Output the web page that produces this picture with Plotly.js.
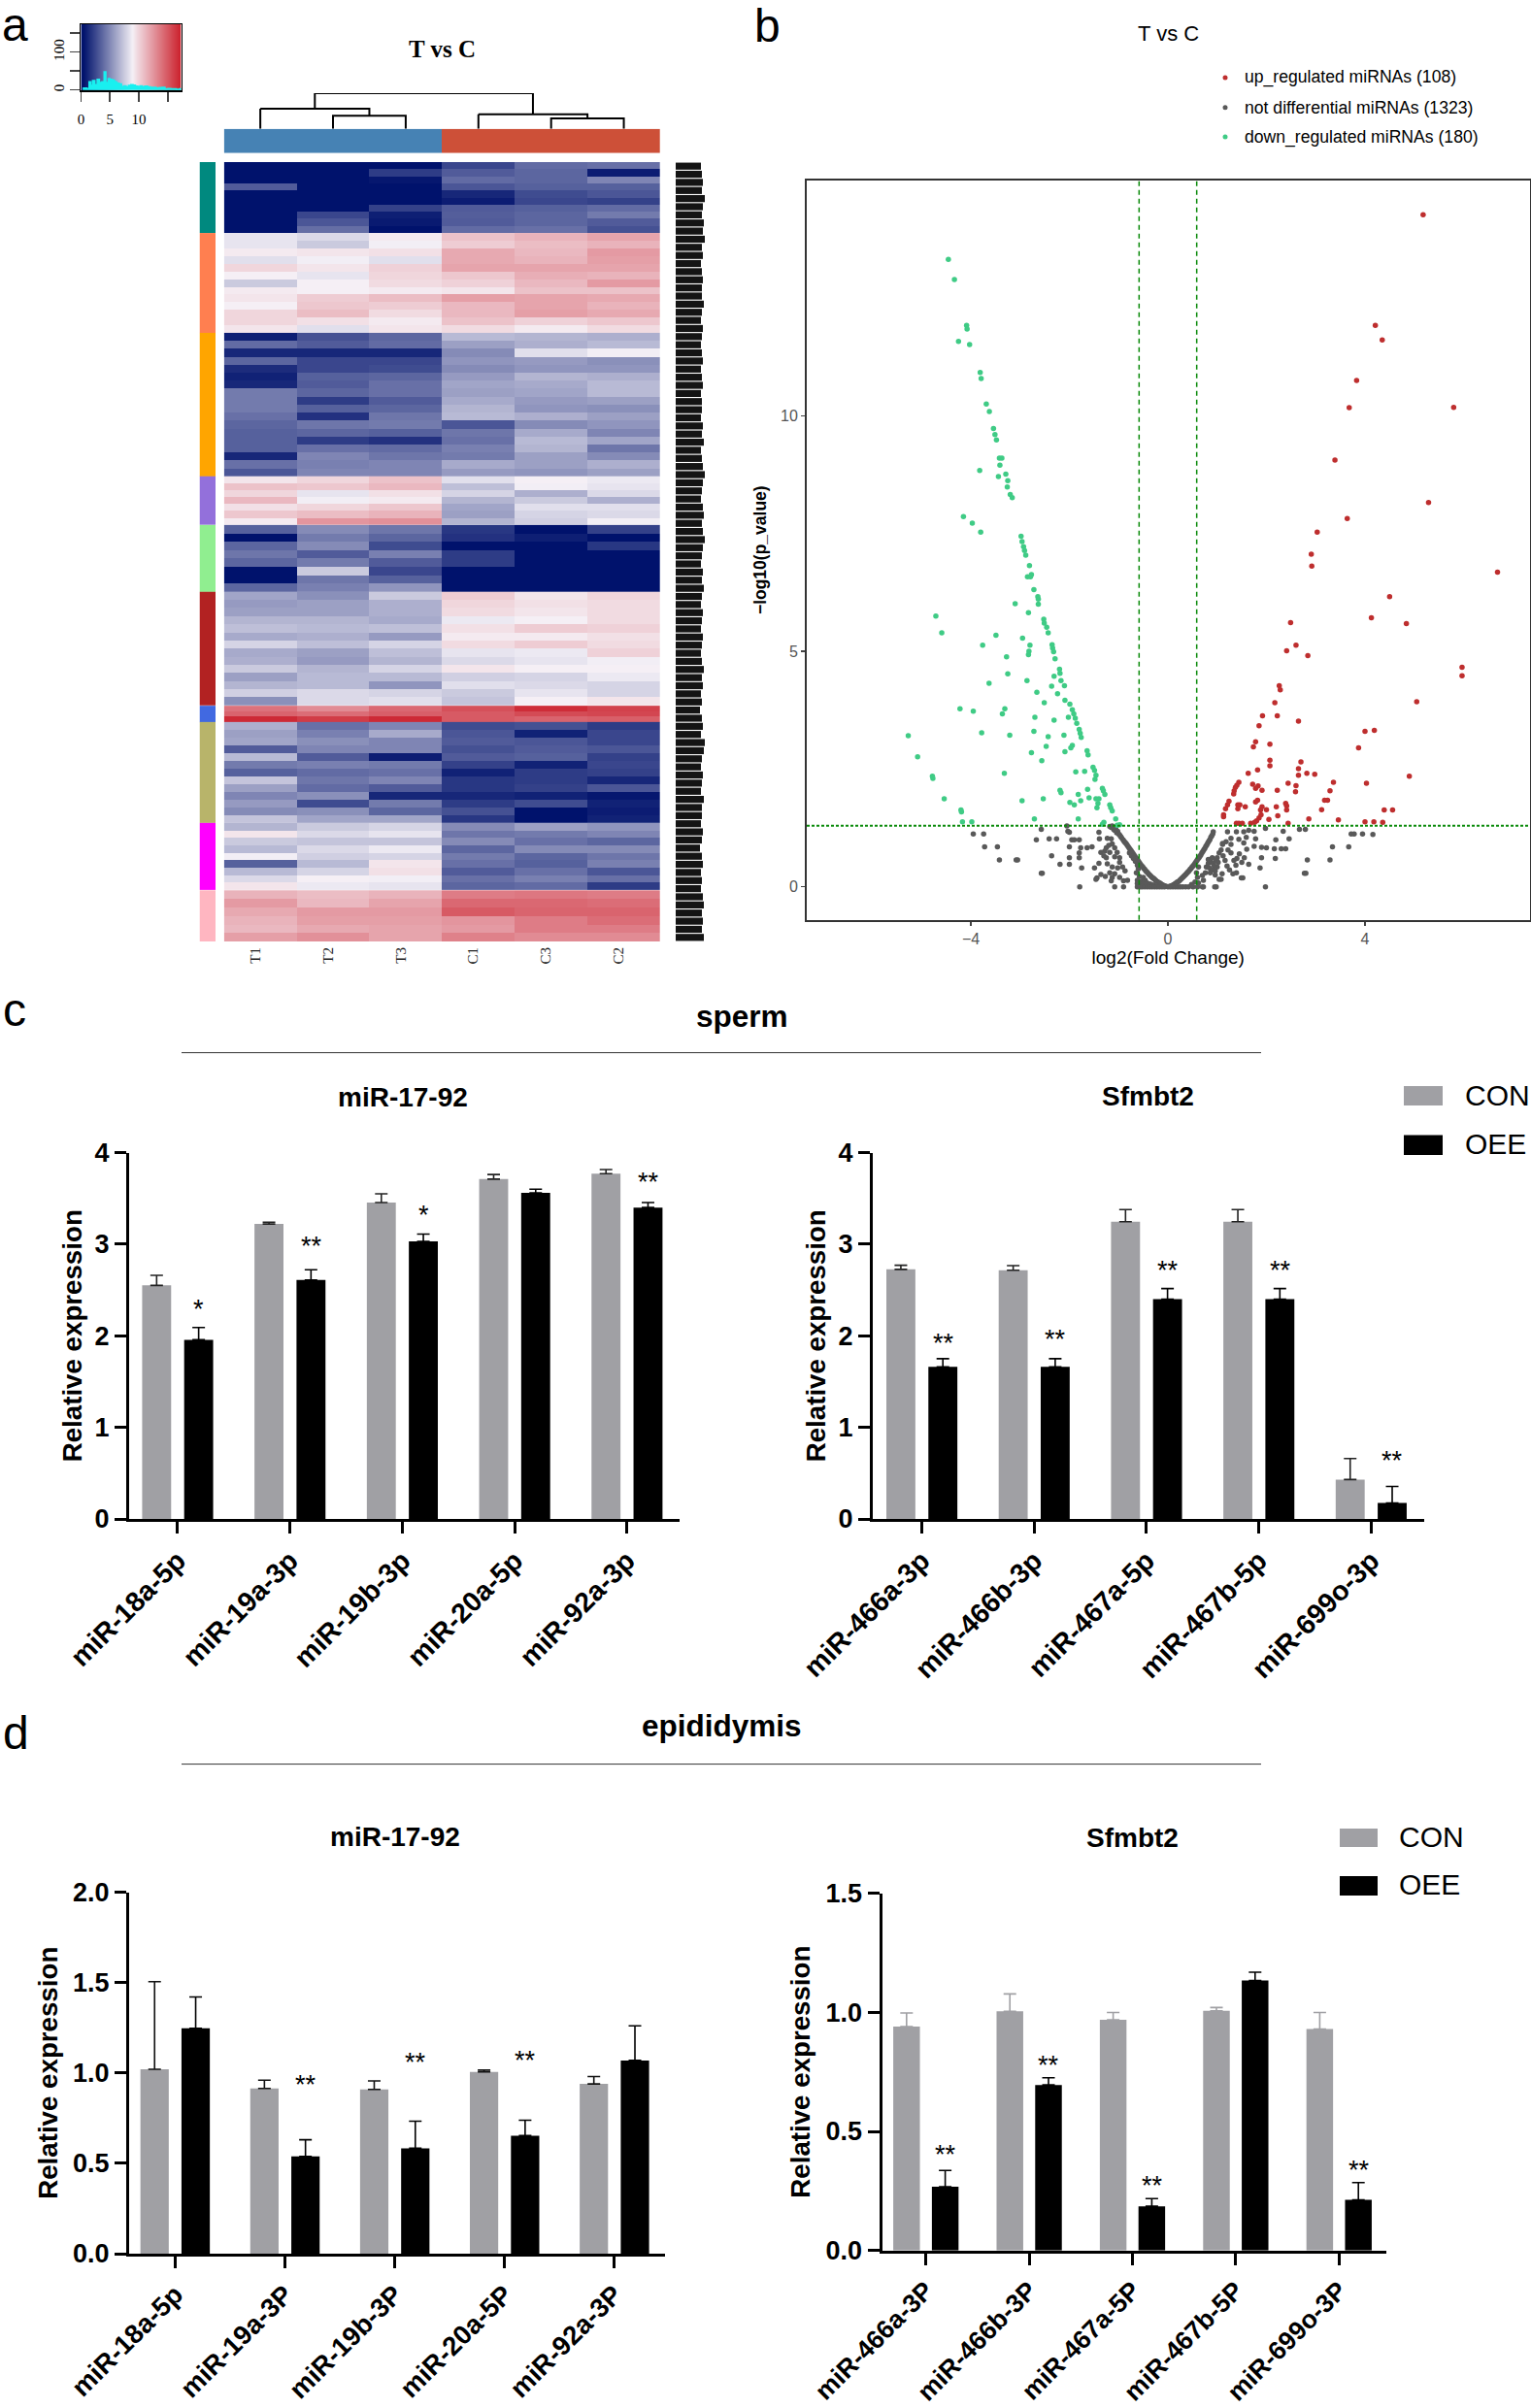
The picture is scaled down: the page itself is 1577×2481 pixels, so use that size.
<!DOCTYPE html>
<html><head><meta charset="utf-8">
<script src="https://cdn.plot.ly/plotly-3.0.1.min.js"></script>
<style>html,body{margin:0;padding:0;background:#fff;overflow:hidden}#chart{width:1577px;height:2481px}</style>
</head><body><div id="chart"></div>
<script>
const W=1577,H=2481;
// ---------- panel a: heatmap rows (T1,T2,T3,C1,C3,C2) ----------
const sampleNames=['T1','T2','T3','C1','C3','C2'];
const clusterColors=['#00897F','#FF7F50','#FFA500','#9370DB','#90EE90','#B22222','#4169E1','#B8B46A','#FF00FF','#FFB6C1'];
const clusterSizes=[26.2,36.9,53,18,24.7,42.1,6,37.3,24.9,18.9];
const cluster1=[[0,0,0,2,3.4,3.6],[0,0,1.6,2.8,3.2,.4],[0,0,.2,3.4,3.2,4.4],[2.8,0,0,2.6,3,3],[0,0,0,.8,2.2,2.6],[0,0,0,.4,2,1.8],[0,0,1.8,2.8,3,3.4],[0,2,.5,2.9,3.2,4],[0,2.6,.3,2.8,3.2,2.8],[0,3.5,0,3.4,3.6,2.4]];
const cluster2=[[8,7.6,8.8,10.4,11,11.6],[8,7,8.4,10,10.6,11],[8.8,9,9.2,11.4,10.8,12],[7.8,8.4,7.8,11.4,11,11.8],[9.6,9,9.8,11.6,11.6,11.6],[8.6,8,9.6,10.2,11.2,11],[7,8.6,9.4,9.8,10.8,12],[8.8,8.6,8.8,9,10.4,10.4],[9,10,10.6,11.8,11.6,11.4],[8.6,10.2,10,10.8,11.6,11],[9.6,10.6,9.4,10.8,11.8,11.4],[9.6,9.2,8.8,10.4,9.8,10.2],[9,7.8,9,9.4,8.8,9.4]];
const cluster3=[[.5,2.4,3.2,6.4,6.2,6],[3.4,2.8,3.4,5.4,6,6.4],[.8,.8,.8,4.6,7.8,8.4],[3.2,2,2,5,5.2,4.8],[1,2,2.2,4.6,5,5],[.6,3,3.2,5.2,6.2,6],[.8,2.8,3.6,5.6,5.8,6.4],[4,3.2,3.6,5.4,5.6,6.4],[4,1.6,2.8,5.8,5.2,5.4],[4,3,3.2,6.2,5,4.8],[3.6,1.2,3.8,6.4,6,5.4],[3.2,3.8,4,2.6,4.6,5],[3,3.2,3,3.8,5.8,4.4],[3,1.6,1.2,3.6,6.4,5.6],[3,3.6,3.4,4.2,6.2,3.8],[.8,4.4,3.8,4,5.4,4.6],[3.6,4.2,4.4,5.8,5.4,6],[2.6,4.4,4.4,5.2,5,5.4]];
const cluster4=[[9,9.6,10.4,7.8,8.6,8.2],[10.4,10.2,10.8,6.6,8.4,8],[9.6,8,9.2,7.4,6,7.6],[10.8,8.4,8.8,6.2,7,6],[9.2,9.6,10.2,5.6,7.8,7.8],[10.2,10.6,11,5.4,7.4,7.6],[8.8,12.2,12.4,6.2,7.2,8.4]];
const cluster5=[[3,4.6,3.8,1.4,0,1.8],[0,4,3.2,1.2,.5,0],[3.2,4.6,2.2,0,0,1.4],[3.8,2.8,4.2,1.6,0,0],[3.2,4,2.8,1.6,0,0],[0,7,2,0,0,0],[0,3.8,3,0,0,0],[3.2,4.2,5,0,0,0]];
const cluster6=[[5.6,4.8,7,10,9,9.6],[5.2,5.4,6,9.6,9.2,9.4],[5.4,5.4,6,9.4,9,9.4],[6.2,6.2,5.8,8.2,8.6,9.4],[6.6,6.4,6.6,9.2,10,9.8],[5.8,6,5.2,8.8,8.8,9.2],[7.4,6.6,7.4,9.4,10,9.4],[5.8,5.4,6.6,8,8.2,9.8],[6,5.2,6.2,7.6,8,8.4],[7,6.2,7.4,9,8.6,8.6],[5.4,6.4,6.4,7.2,7.4,8.2],[6.2,6.4,5,7.8,7.6,7.4],[7.2,7.6,7.4,7,8,7.4],[4.8,7.6,7.8,6.8,8.6,9]];
const cluster7=[[13.6,12.6,14,15,16.4,15.6],[14.2,13.8,14.4,14.6,15.2,15.4],[16.5,15.8,16.5,14.6,14.2,14.4]];
const cluster8=[[6,3.6,4.4,2.2,2.4,1.6],[5.4,4.2,5.8,2.6,.6,2],[5.6,4.8,4.4,2.8,2.6,2],[2.8,4.4,4.4,2.4,2.8,2.6],[6.4,2.8,.4,2.8,3,1.8],[4,4.2,4,1.8,.6,2],[3,3.4,3.6,.6,1.6,1.8],[6.8,3.8,4.4,1.4,1.6,.8],[5.4,3.4,2.8,1.4,1.8,2.6],[4.4,4.8,.8,.8,.6,.2],[5.2,2.2,4,1.6,2.2,.6],[4.6,4.8,3.2,2.4,0,.4],[6.8,5.6,5.6,1.4,0,.6]];
const cluster9=[[6.2,7,7.4,4.6,5.4,5],[9,7.6,8,3.8,4,4.4],[7,6.8,6.8,4.6,3.6,3.2],[6.4,7.6,8.2,3.2,4.6,4.6],[8.4,7.2,7.4,4,3.2,3.8],[3,6.4,9,3.6,3,4.2],[6.4,7.4,9.2,2.8,3.6,2.6],[7.6,8.6,8.4,3.6,4.2,3.6],[9,8.2,8,3.2,3.4,1.6]];
const cluster10=[[11,10.6,11,13.2,13.4,13.2],[12,10.8,11.6,14,14,13.8],[11.4,12,12,14.6,14.2,14.2],[11,11.8,11.8,12.2,13.2,13.8],[10.8,11.4,11.6,12,13.2,13.2],[11.8,12.4,11.6,13,12.6,12.6]];
const clusters=[cluster1,cluster2,cluster3,cluster4,cluster5,cluster6,cluster7,cluster8,cluster9,cluster10];
const rowLabelWidths=[26,27,28,27,30,28,27,29,28,30,27,28,26,27,28,27,27,29,27,26,28,27,26,27,28,26,27,28,26,27,27,26,28,27,29,26,27,28,30,28,27,26,28,29,27,28,30,28,27,26,28,27,29,27,26,28,27,26,28,27,26,27,29,27,28,26,27,25,27,28,26,30,29,27,26,28,27,26,29,27,27,26,28,27,25,27,28,26,27,26,28,29,27,28,27,29];
const keyHistX=[.3,1,1.4,1.7,2,2.4,2.8,3.2,3.6,4,4.3,4.7,5,5.4,5.8,6.2,6.6,7,7.4,7.8,8.2,8.6,9,9.4,9.8,10.2,10.6,11,11.5,12,12.5,13,13.5,14,14.5,15,15.5,16,16.5,17,17.3];
const keyHistY=[5,4,22,12,25,14,28,20,22,48,20,30,28,26,22,18,16,9,11,8,12,14,13,10,9,11,8,10,8,7,7,5,6,7,3,4,3,3,2,3,4];
// dendrogram: leaf positions are column indices, heights as drawn
const dendroX=[0,0,null,1,1,2,2,null,1.5,1.5,0,0,null,3,3,null,4,4,5,5,null,4.5,4.5,3,3,null,.75,.75,null,3.75,3.75,null,.75,3.75];
const dendroY=[0,20.7,null,0,13.4,13.4,0,null,13.4,20.7,20.7,20.7,null,0,15,null,0,10.7,10.7,0,null,10.7,15,15,15,null,20.7,36.7,null,15,36.7,null,36.7,36.7];

// ---------- panel b: volcano ----------
const upPts=[[5.18,14.27],[4.21,11.92],[4.35,11.61],[3.83,10.75],[3.68,10.17],[5.8,10.18],[3.39,9.06],[5.29,8.16],[3.64,7.82],[3.03,7.53],[2.91,7.06],[2.92,6.81],[6.69,6.68],[4.5,6.16],[4.13,5.71],[2.49,5.61],[4.84,5.59],[2.6,5.13],[2.41,5.01],[2.84,4.91],[5.97,4.66],[5.97,4.48],[2.26,4.27],[2.28,4.18],[2.17,3.91],[5.05,3.93],[1.92,3.63],[2.22,3.63],[2.65,3.52],[1.85,3.42],[4,3.3],[4.19,3.32],[1.78,3.08],[2.07,3.03],[1.735,2.97],[3.87,2.95],[2.07,2.69],[2.07,2.57],[2.7,2.65],[2.65,2.51],[1.82,2.48],[1.63,2.41],[2.82,2.41],[2.98,2.39],[2.65,2.37],[4.9,2.35],[4.03,2.2],[3.36,2.22],[2.44,2.2],[1.44,2.22],[1.4,2.16],[1.72,2.18],[1.83,2.14],[1.78,2.09],[2.6,2.15],[1.37,2.11],[1.345,2.04],[1.335,1.97],[1.91,2.05],[2.22,2.05],[2.59,2.02],[3.29,2.04],[3.18,1.84],[3.24,1.84],[1.24,1.82],[1.21,1.74],[1.82,1.84],[1.78,1.8],[1.42,1.74],[1.46,1.74],[1.42,1.66],[1.57,1.7],[1.17,1.66],[1.91,1.7],[1.88,1.63],[2.39,1.77],[2.41,1.72],[2.2,1.7],[2,1.64],[2.41,1.63],[3.12,1.64],[4.39,1.63],[4.56,1.63],[1.13,1.53],[1.13,1.49],[2.23,1.51],[1.89,1.53],[1.85,1.46],[1.8,1.4],[2.05,1.43],[2.86,1.44],[3.46,1.42],[4,1.38],[4.18,1.38],[4.36,1.37],[2.44,1.35],[1.39,1.35],[1.44,1.35],[1.51,1.35],[1.68,1.35],[1.76,1.37]];
const downPts=[[-4.456,13.32],[-4.333,12.89],[-4.086,11.92],[-4.076,11.84],[-4.25,11.58],[-4.025,11.51],[-3.81,10.92],[-3.79,10.79],[-3.686,10.25],[-3.624,10.09],[-3.54,9.73],[-3.51,9.6],[-3.48,9.49],[-3.42,9.1],[-3.37,9.1],[-3.41,8.95],[-3.82,8.84],[-3.44,8.71],[-3.29,8.76],[-3.25,8.62],[-3.26,8.49],[-3.2,8.33],[-3.16,8.26],[-4.15,7.86],[-3.97,7.72],[-3.8,7.53],[-2.98,7.44],[-2.96,7.33],[-2.93,7.22],[-2.91,7.14],[-2.885,7.04],[-2.81,6.82],[-2.85,6.58],[-2.79,6.58],[-2.77,6.63],[-2.72,6.31],[-2.64,6.16],[-2.63,6.11],[-2.63,6],[-3.1,6.01],[-2.83,5.82],[-4.71,5.75],[-4.59,5.39],[-2.52,5.68],[-2.51,5.6],[-2.46,5.51],[-2.43,5.39],[-3.49,5.34],[-2.95,5.28],[-3.76,5.13],[-2.8,5.13],[-2.35,5.14],[-2.34,5.07],[-2.32,4.99],[-2.29,4.84],[-2.82,5],[-2.83,4.93],[-3.275,4.88],[-2.2,4.62],[-2.19,4.53],[-3.25,4.52],[-2.31,4.47],[-2.17,4.38],[-2.86,4.38],[-3.63,4.32],[-2.1,4.27],[-2.36,4.26],[-2.66,4.13],[-2.24,4.1],[-2.09,3.96],[-2.51,3.91],[-1.99,3.88],[-4.22,3.78],[-3.31,3.78],[-3.95,3.73],[-3.36,3.67],[-1.94,3.76],[-1.91,3.67],[-1.88,3.58],[-1.85,3.47],[-2.7,3.6],[-2.02,3.6],[-2.31,3.54],[-1.8,3.34],[-2.72,3.3],[-1.78,3.26],[-1.76,3.17],[-3.78,3.27],[-3.21,3.22],[-2.43,3.19],[-2.11,3.22],[-5.27,3.21],[-1.94,3],[-1.97,2.95],[-2.47,2.98],[-2.09,2.87],[-1.64,2.89],[-1.62,2.8],[-2.77,2.85],[-5.08,2.76],[-2.56,2.68],[-1.52,2.54],[-1.49,2.47],[-1.46,2.37],[-1.48,2.28],[-1.87,2.44],[-1.69,2.45],[-3.32,2.41],[-4.78,2.35],[-4.77,2.3],[-2.19,2.05],[-2.17,2],[-1.63,2.07],[-1.33,2.09],[-1.31,2.04],[-1.28,1.96],[-1.82,1.96],[-1.6,1.89],[-1.46,1.87],[-1.4,1.87],[-4.54,1.87],[-2.53,1.87],[-2.96,1.83],[-1.77,1.83],[-1.99,1.79],[-1.9,1.74],[-1.42,1.77],[-1.18,1.74],[-1.16,1.68],[-1.44,1.68],[-4.2,1.63],[-4.19,1.59],[-1.13,1.61],[-2.71,1.44],[-1.82,1.44],[-1.06,1.44],[-4.17,1.38],[-3.98,1.38],[-1.3,1.37],[-1.33,1.33],[-1.03,1.31],[-.98,1.32]];
const flatPts=[[-3.95,1.12],[-3.74,1.12],[-3.72,.85],[-3.46,.85],[-3.42,.57],[-3.08,.57],[-3.05,.57],[-2.57,.29],[-2.55,.29],[-2.67,1],[-2.41,1.02],[-2.26,1.02],[-2.57,1.22],[-2.05,1.29],[-2.03,1.18],[-2,1.16],[-1.95,1],[-1.9,1],[-1.8,1],[-2,.85],[-1.77,.83],[-1.64,.83],[-1.54,.85],[-1.8,.72],[-2.36,.66],[-2,.62],[-1.8,.62],[-2.19,.48],[-2,.48],[-1.75,.4],[-1.49,.4],[-1.79,0],[-1.36,.26],[-1.44,.19],[-1.46,.16],[-1.08,0],[-.9,0],[-.62,0],[-.56,0],[-1.4,1.16],[-1.39,1.02],[-1.23,1.03],[-1.15,1.02],[-1.25,.83],[-1.2,.88],[-1.13,.91],[-1.08,.83],[-1.28,.76],[-1.36,.73],[-1.18,.73],[-1.03,.73],[-1.25,.62],[-1.08,.64],[-.98,.62],[-1.23,.49],[-.98,.52],[-1.13,.42],[-.92,.42],[-1.18,.3],[-1.08,.28],[-.87,.34],[-1.13,.2],[-.98,.2],[-.82,.14],[-.9,.13],[-1.15,.13],[-1.3,.66],[-1.4,.5],[-1.02,.4],[-1.27,.22],
[-1.18,1.28],[-1.15,1.26],[-1.13,1.29],[-1.1,1.22],[-1.08,1.2],[-1.06,1.24],[-1.04,1.15],[-1.02,1.18],[-1,1.12],[-.98,1.1],[-.96,1.07],[-.94,1.04],[-.91,1],[-.89,.97],[-.87,.94],[-.85,.92],[-.83,.89],[-.81,.86],[-.79,.83],[-.77,.8],[-.75,.77],[-.73,.74],[-.71,.71],[-.69,.68],[-.67,.65],[-.65,.62],[-.63,.59],[-.61,.56],[-.59,.53],[-.57,.5],[-.55,.47],[-.53,.44],[-.51,.42],[-.49,.39],[-.47,.37],[-.45,.34],[-.43,.32],[-.41,.3],[-.39,.27],[-.37,.25],[-.35,.23],[-.33,.21],[-.31,.19],[-.29,.18],[-.27,.16],[-.25,.14],[-.23,.12],[-.21,.11],[-.19,.09],[-.17,.08],[-.15,.07],[-.13,.05],[-.11,.04],[-.09,.03],[-.07,.02],[-.05,.01],[-.03,.01],
[-.78,.72],[-.74,.66],[-.7,.6],[-.66,.54],[-.62,.46],[-.6,.38],[-.64,.3],[-.58,.22],[-.62,.14],[-.55,.12],[-.5,.2],[-.46,.14],[-.42,.08],[-.36,.06],[-.3,.04],[-.22,.02],[-.5,.06],[-.62,.07],[-.58,.03],[-.52,0],[-.47,0],[-.42,0],[-.37,0],[-.32,0],[-.27,0],[-.22,0],[-.17,0],[-.12,0],[-.07,0],[0,0],[.05,0],[.1,0],[.15,0],[.2,0],[.25,0],[.3,0],[.36,0],[.42,0],[.51,0],[.6,0],[.72,0],[.98,0],[.95,0],[.7,0],
[.92,1.17],[.91,1.12],[.89,1.08],[.87,1.05],[.85,1],[.83,.97],[.81,.93],[.79,.89],[.77,.86],[.75,.82],[.73,.79],[.71,.75],[.69,.72],[.67,.68],[.65,.65],[.63,.62],[.61,.59],[.59,.56],[.57,.53],[.55,.5],[.53,.47],[.51,.44],[.49,.42],[.47,.39],[.45,.37],[.43,.34],[.41,.32],[.39,.3],[.37,.27],[.35,.25],[.33,.23],[.31,.21],[.29,.19],[.27,.17],[.25,.15],[.23,.13],[.21,.11],[.19,.1],[.17,.08],[.15,.07],[.13,.05],[.11,.04],[.09,.03],[.07,.02],[.05,.01],[.03,.01],
[.62,.42],[.58,.3],[.6,.2],[.55,.1],[.48,.05],[.62,.08],[.72,.14],[.7,.24],[.76,.3],[.78,.42],[.84,.4],[.82,.5],[.88,.52],[.92,.5],[.94,.44],[.9,.36],[.86,.3],[.96,.34],[1,.42],[1.02,.52],[.98,.56],[.82,.58],[.9,.62],[.96,.25],[1.04,.16],[1.08,.16],[1.1,.28],[1,.62],[1.04,.72],[1.08,.78],[1.11,.9],[1.18,.96],[1.12,.66],[1.16,.56],[1.2,.44],[1.25,.36],[1.32,.28],[1.28,.72],[1.22,.78],[1.34,.56],[1.4,.6],[1.38,.46],[1.5,.52],[1.45,.7],[1.55,.62],[1.6,.8],[1.39,.3],[1.49,.19],[1.52,.19],
[1.21,1.17],[1.39,1.17],[1.54,1.17],[1.64,1.2],[1.75,1.18],[1.98,1.24],[2.34,1.18],[2.67,1.22],[2.79,1.22],[2.46,1.02],[2.19,1],[1.78,1.02],[1.59,1.05],[1.44,1.01],[1.28,1.03],[1.11,.92],[1.28,.9],[1.54,.93],[1.75,.86],[1.9,.84],[2,.83],[2.16,.81],[2.39,.81],[2.3,.81],[3.34,.85],[3.67,.85],[3.72,1.12],[3.78,1.12],[3.95,1.12],[4.16,1.11],[2.83,.57],[3.29,.57],[2.18,.6],[1.9,.62],[2.77,.29],[2.8,.29],[1.98,0],[1.87,.4],[1.64,.48]];
const pThreshold=1.3, fcThreshold=.585;

// ---------- panels c / d ----------
const cLeftCats=['miR-18a-5p','miR-19a-3p','miR-19b-3p','miR-20a-5p','miR-92a-3p'];
const cLeftCon=[2.55,3.22,3.455,3.71,3.77], cLeftConTop=[2.66,3.24,3.55,3.76,3.815];
const cLeftOee=[1.956,2.61,3.03,3.56,3.4], cLeftOeeTop=[2.09,2.72,3.11,3.6,3.455];
const cLeftStars=[['*',0,2.34],['**',1,3.03],['*',2,3.37],['**',4,3.73]];
const cRightCats=['miR-466a-3p','miR-466b-3p','miR-467a-5p','miR-467b-5p','miR-699o-3p'];
const cRightCon=[2.725,2.715,3.245,3.245,.43], cRightConTop=[2.77,2.765,3.377,3.377,.66];
const cRightOee=[1.66,1.66,2.4,2.4,.175], cRightOeeTop=[1.75,1.75,2.515,2.515,.355];
const cRightStars=[['**',0,1.97],['**',1,2.01],['**',2,2.77],['**',3,2.77],['**',4,.69]];
const dLeftCats=['miR-18a-5p','miR-19a-3P','miR-19b-3P','miR-20a-5P','miR-92a-3P'];
const dLeftCon=[1.02,.914,.909,1.006,.939], dLeftConTop=[1.505,.96,.956,1.016,.98];
const dLeftOee=[1.247,.538,.583,.653,1.069], dLeftOeeTop=[1.42,.63,.733,.738,1.26];
const dLeftStars=[['**',1,.96],['**',2,1.086],['**',3,1.096]];
const dRightCats=['miR-466a-3P','miR-466b-3P','miR-467a-5P','miR-467b-5P','miR-699o-3P'];
const dRightCon=[.94,1.004,.968,1.006,.93], dRightConTop=[.997,1.077,.999,1.02,.999];
const dRightOee=[.268,.695,.186,1.133,.213], dRightOeeTop=[.336,.725,.218,1.168,.285];
const dRightStars=[['**',0,.423],['**',1,.797],['**',2,.292],['**',4,.357]];

// ---------- helpers ----------
const sans='Liberation Sans, Arial, sans-serif', serif='Liberation Serif, Times New Roman, serif';
const dmX=(a,b)=>[a/W,b/W], dmY=(t,b)=>[1-b/H,1-t/H];
const PX=x=>x/W, PY=y=>1-y/H;
const navyRed=[[0,'#00126C'],[.5,'#F5F1F7'],[1,'#CB1E2A']];
const traces=[], annotations=[], shapes=[];
const layout={width:W,height:H,margin:{l:0,r:0,t:0,b:0},autosize:false,paper_bgcolor:'#fff',plot_bgcolor:'rgba(0,0,0,0)',showlegend:false,
 barmode:'group',bargap:.252,bargroupgap:.31,font:{family:sans,color:'#000'},
 coloraxis:{cmin:0,cmax:17,colorscale:navyRed,showscale:false},annotations,shapes};
const hidden=(dom,range,extra)=>Object.assign({domain:dom,range,visible:false,fixedrange:true},extra||{});

// heat axes
layout.xaxis=Object.assign({domain:dmX(230.7,680),range:[-.5,5.5],anchor:'y',tickmode:'array',tickvals:[-.07,.93,1.93,2.93,3.93,4.93],ticktext:sampleNames,tickangle:-90,ticks:'',showgrid:false,zeroline:false,showline:false,tickfont:{family:serif,size:15,color:'#222'},ticklabelstandoff:2});
layout.yaxis=hidden(dmY(167,970),[288,0],{anchor:'x'});
layout.xaxis2=hidden(dmX(205.5,222),[0,1],{anchor:'y'});
layout.xaxis3=hidden(dmX(696,730),[0,34],{anchor:'y'});
layout.yaxis3=hidden(dmY(132.7,157.7),[0,1],{anchor:'x'});
layout.yaxis4=hidden(dmY(96,132.7),[0,36.7],{anchor:'x'});
let start=0;
clusters.forEach((rows,i)=>{
  const size=clusterSizes[i], dy=size/rows.length;
  traces.push({type:'heatmap',z:rows,x0:0,dx:1,y0:start+dy/2,dy,coloraxis:'coloraxis',xaxis:'x',yaxis:'y',hoverinfo:'skip'});
  const c=clusterColors[i];
  traces.push({type:'heatmap',z:[[1]],x0:.5,dx:1,y0:start+size/2,dy:size,xaxis:'x2',yaxis:'y',showscale:false,colorscale:[[0,c],[1,c]],zmin:0,zmax:1,hoverinfo:'skip'});
  start+=size;
});
// column annotation
traces.push({type:'heatmap',z:[[0,0,0,1,1,1]],x0:0,dx:1,y0:.5,dy:1,xaxis:'x',yaxis:'y3',showscale:false,zmin:0,zmax:1,
 colorscale:[[0,'#4682B4'],[.5,'#4682B4'],[.5,'#CD5038'],[1,'#CD5038']],hoverinfo:'skip'});
traces.push({type:'scatter',mode:'lines',x:dendroX,y:dendroY,xaxis:'x',yaxis:'y4',line:{color:'#000',width:2},hoverinfo:'skip',connectgaps:false,cliponaxis:false});
// row labels block
traces.push({type:'bar',orientation:'h',x:rowLabelWidths,y:rowLabelWidths.map((_,i)=>i*3+1.5),width:2.6,xaxis:'x3',yaxis:'y',marker:{color:'#141414',line:{width:0}},hoverinfo:'skip'});
// colour key
layout.xaxis4={domain:dmX(83.4,186.6),range:[0,17.3],anchor:'y5',tickmode:'array',tickvals:[0,5,10,15],ticktext:['0','5','10',''],ticks:'outside',ticklen:10,tickwidth:1.5,showline:true,mirror:true,linewidth:1.5,linecolor:'#000',showgrid:false,zeroline:false,tickfont:{family:serif,size:15},ticklabelstandoff:5};
layout.yaxis5={domain:dmY(25,93.3),range:[-1.5,173.6],anchor:'x4',tickmode:'array',tickvals:[0,50,100,150],ticktext:['0','','100',''],ticks:'outside',ticklen:10,tickwidth:1.5,tickangle:-90,showline:true,mirror:true,linewidth:1.5,linecolor:'#000',showgrid:false,zeroline:false,tickfont:{family:serif,size:15}};
traces.push({type:'heatmap',z:[[0,1,2,3,4,5,6,7,8,9,10,11,12,13,14,15,16,17]],x:[.3,1.3,2.3,3.3,4.3,5.3,6.3,7.3,8.3,9.3,10.3,11.3,12.3,13.3,14.3,15.3,16.3,17.3],y:[-1.5,173.6],zsmooth:'best',coloraxis:'coloraxis',xaxis:'x4',yaxis:'y5',hoverinfo:'skip'});
traces.push({type:'scatter',mode:'lines',x:keyHistX,y:keyHistY,line:{color:'#19F0F0',width:1.5,shape:'hv'},fill:'tozeroy',fillcolor:'#19F0F0',xaxis:'x4',yaxis:'y5',hoverinfo:'skip'});
annotations.push({text:'T vs C',xref:'paper',yref:'paper',x:PX(455),y:PY(50.7),showarrow:false,font:{family:serif,size:25,color:'#000',weight:'bold'},xanchor:'center',yanchor:'middle'});

// volcano
layout.xaxis5={domain:dmX(831,1575.5),range:[-7.33,7.34],anchor:'y6',tickmode:'array',tickvals:[-4,0,4],ticktext:['\u22124','0','4'],ticks:'outside',ticklen:4,tickwidth:1.5,showline:true,mirror:true,linewidth:2,linecolor:'#333',showgrid:false,zeroline:false,tickfont:{size:16,color:'#555'},title:{text:'log2(Fold Change)',font:{size:19,color:'#000'},standoff:4}};
layout.yaxis6={domain:dmY(185.7,947.7),range:[-.7,15],anchor:'x5',tickmode:'array',tickvals:[0,5,10],ticktext:['0','5','10'],ticks:'outside',ticklen:4,tickwidth:1.5,showline:true,mirror:true,linewidth:2,linecolor:'#333',showgrid:false,zeroline:false,tickfont:{size:16,color:'#555'},title:{text:'\u2212log10(p_value)',font:{size:17.5,color:'#000',weight:'bold'},standoff:10}};
const mk=(pts,color,name)=>({type:'scatter',mode:'markers',name,x:pts.map(p=>p[0]),y:pts.map(p=>p[1]),xaxis:'x5',yaxis:'y6',marker:{color,size:5.5,line:{width:0}},hoverinfo:'skip'});
traces.push(mk(flatPts,'#595959','not differential'));
traces.push(mk(upPts,'#BE2E2E','up_regulated'));
traces.push(mk(downPts,'#3FCB85','down_regulated'));
[-fcThreshold,fcThreshold].forEach(v=>shapes.push({type:'line',xref:'x5',yref:'y6 domain',x0:v,x1:v,y0:0,y1:1,line:{color:'#0A8A0A',width:1.5,dash:'5px,4px'},layer:'above'}));
shapes.push({type:'line',xref:'x5 domain',yref:'y6',x0:0,x1:1,y0:pThreshold,y1:pThreshold,line:{color:'#0A8A0A',width:2,dash:'3px,2px'},layer:'above'});
annotations.push({text:'T vs C',xref:'paper',yref:'paper',x:PX(1203.5),y:PY(34.3),showarrow:false,font:{size:22,color:'#000'},xanchor:'center',yanchor:'middle'});
[['up_regulated miRNAs (108)','#BE2E2E',80],['not differential miRNAs (1323)','#595959',110.7],['down_regulated miRNAs (180)','#3FCB85',141]].forEach(([t,c,y])=>{
  annotations.push({text:t,xref:'paper',yref:'paper',x:PX(1280),y:PY(y),showarrow:false,font:{size:17.6,color:'#000'},xanchor:'left',yanchor:'middle'});
  shapes.push({type:'circle',xref:'paper',yref:'paper',x0:PX(1259.5),x1:PX(1264.5),y0:PY(y+2.5),y1:PY(y-2.5),fillcolor:c,line:{width:0}});
});

// bar panels
function barPanel(xid,yid,xDom,yDom,xRange,yMax,yTicks,yFmt,cats,con,conTop,oee,oeeTop,stars,conErrColor,titleStandoff,catSize){
  const xk='xaxis'+xid.slice(1), yk='yaxis'+yid.slice(1);
  layout[xk]={domain:xDom,range:xRange,anchor:yid,type:'category',categoryorder:'array',categoryarray:cats,ticks:'outside',ticklen:12,tickwidth:3,tickcolor:'#000',showline:true,linewidth:3,linecolor:'#000',showgrid:false,zeroline:false,tickangle:-45,tickfont:{size:catSize,weight:'bold',color:'#000'}};
  layout[yk]={domain:yDom,range:[0,yMax],anchor:xid,tickmode:'array',tickvals:yTicks,ticktext:yTicks.map(yFmt),ticks:'outside',ticklen:12,tickwidth:3,tickcolor:'#000',showline:true,linewidth:3,linecolor:'#000',showgrid:false,zeroline:false,tickfont:{size:27,weight:'bold',color:'#000'},title:{text:'Relative expression',font:{size:27.7,weight:'bold',color:'#000'},standoff:titleStandoff}};
  const err=(m,t,color)=>({type:'data',symmetric:false,array:t.map((v,i)=>v-m[i]),arrayminus:t.map(()=>0),color,thickness:1.6,width:6.5});
  traces.push({type:'bar',name:'CON',x:cats,y:con,xaxis:xid,yaxis:yid,marker:{color:'#A0A0A4',line:{width:0}},error_y:err(con,conTop,conErrColor),hoverinfo:'skip'});
  traces.push({type:'bar',name:'OEE',x:cats,y:oee,xaxis:xid,yaxis:yid,marker:{color:'#000',line:{width:0}},error_y:err(oee,oeeTop,'#000'),hoverinfo:'skip'});
  stars.forEach(([t,i,y])=>annotations.push({text:t,xref:xid,yref:yid,x:i+.19,y,showarrow:false,font:{size:27,color:'#000'},xanchor:'center',yanchor:'middle',yshift:-5}));
}
const f0=v=>String(v), f1=v=>v.toFixed(1);
barPanel('x6','y7',dmX(133,700),dmY(1187.5,1565),[-.432,4.468],4,[0,1,2,3,4],f0,cLeftCats,cLeftCon,cLeftConTop,cLeftOee,cLeftOeeTop,cLeftStars,'#222',5,28.5);
barPanel('x7','y8',dmX(899,1467),dmY(1187.5,1565),[-.437,4.472],4,[0,1,2,3,4],f0,cRightCats,cRightCon,cRightConTop,cRightOee,cRightOeeTop,cRightStars,'#222',5,28.5);
barPanel('x8','y9',dmX(133,685),dmY(1949.5,2322),[-.419,4.461],2,[0,.5,1,1.5,2],f1,dLeftCats,dLeftCon,dLeftConTop,dLeftOee,dLeftOeeTop,dLeftStars,'#111',8,27.5);
barPanel('x9','y10',dmX(908.5,1427.5),dmY(1950.5,2318.8),[-.425,4.453],1.5,[0,.5,1,1.5],f1,dRightCats,dRightCon,dRightConTop,dRightOee,dRightOeeTop,dRightStars,'#A0A0A4',8,26.5);

const txt=(t,x,y,size,bold,anchor)=>annotations.push({text:t,xref:'paper',yref:'paper',x:PX(x),y:PY(y),showarrow:false,font:{size,color:'#000',weight:bold?'bold':'normal'},xanchor:anchor||'center',yanchor:'middle'});
const rule=(x0,x1,y)=>shapes.push({type:'line',xref:'paper',yref:'paper',x0:PX(x0),x1:PX(x1),y0:PY(y),y1:PY(y),line:{color:'#333',width:1}});
const swatch=(x0,x1,y0,y1,c)=>shapes.push({type:'rect',xref:'paper',yref:'paper',x0:PX(x0),x1:PX(x1),y0:PY(y0),y1:PY(y1),fillcolor:c,line:{width:0}});
txt('sperm',764,1047,31.5,true); rule(187,1299,1084.6);
txt('miR-17-92',415,1130,28,true); txt('Sfmbt2',1182.6,1129,28,true);
swatch(1446,1486,1119,1139,'#A0A0A4'); swatch(1446,1486,1169.6,1190,'#000');
txt('CON',1507,1128,30,false,'left'); txt('OEE',1507,1179,30,false,'left');
txt('epididymis',743,1778,31.5,true); rule(187,1299,1817.6);
txt('miR-17-92',407,1892,28,true); txt('Sfmbt2',1166.5,1893.6,28,true);
swatch(1380,1419,1884,1903,'#A0A0A4'); swatch(1380,1419,1933,1953,'#000');
txt('CON',1439,1892,30,false,'left'); txt('OEE',1439,1942,30,false,'left');
txt('a',0,25,48,false,'left'); txt('b',775,26,48,false,'left'); txt('c',1,1040,48,false,'left'); txt('d',1,1785,48,false,'left');

Plotly.newPlot('chart',traces,layout,{staticPlot:true,displayModeBar:false});
</script></body></html>
